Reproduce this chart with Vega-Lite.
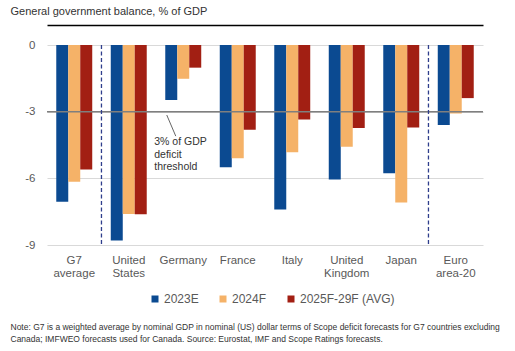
{
  "$schema": "https://vega.github.io/schema/vega-lite/v6.json",
  "width": 436,
  "height": 200,
  "autosize": {"type": "none"},
  "padding": {"left": 47, "top": 45, "right": 32, "bottom": 106},
  "background": "white",
  "config": {"view": {"stroke": null}, "font": "Liberation Sans"},
  "resolve": {"axis": {"x": "independent", "y": "independent"}},
  "layer": [
    {
      "data": {"values": [
        {"country": "G7 average", "series": "2023E", "value": -7.05},
        {"country": "G7 average", "series": "2024F", "value": -6.15},
        {"country": "G7 average", "series": "2025F-29F (AVG)", "value": -5.6},
        {"country": "United States", "series": "2023E", "value": -8.8},
        {"country": "United States", "series": "2024F", "value": -7.6},
        {"country": "United States", "series": "2025F-29F (AVG)", "value": -7.62},
        {"country": "Germany", "series": "2023E", "value": -2.48},
        {"country": "Germany", "series": "2024F", "value": -1.52},
        {"country": "Germany", "series": "2025F-29F (AVG)", "value": -1.02},
        {"country": "France", "series": "2023E", "value": -5.5},
        {"country": "France", "series": "2024F", "value": -5.1},
        {"country": "France", "series": "2025F-29F (AVG)", "value": -3.81},
        {"country": "Italy", "series": "2023E", "value": -7.4},
        {"country": "Italy", "series": "2024F", "value": -4.83},
        {"country": "Italy", "series": "2025F-29F (AVG)", "value": -3.35},
        {"country": "United Kingdom", "series": "2023E", "value": -6.05},
        {"country": "United Kingdom", "series": "2024F", "value": -4.58},
        {"country": "United Kingdom", "series": "2025F-29F (AVG)", "value": -3.74},
        {"country": "Japan", "series": "2023E", "value": -5.77},
        {"country": "Japan", "series": "2024F", "value": -7.09},
        {"country": "Japan", "series": "2025F-29F (AVG)", "value": -3.71},
        {"country": "Euro area-20", "series": "2023E", "value": -3.6},
        {"country": "Euro area-20", "series": "2024F", "value": -3.08},
        {"country": "Euro area-20", "series": "2025F-29F (AVG)", "value": -2.39}
      ]},
      "mark": {"type": "bar"},
      "encoding": {
        "x": {
          "field": "country", "type": "nominal",
          "sort": ["G7 average", "United States", "Germany", "France", "Italy", "United Kingdom", "Japan", "Euro area-20"],
          "scale": {"paddingInner": 0.34, "paddingOuter": 0.17},
          "axis": {
            "orient": "bottom", "domain": false, "ticks": false, "grid": false,
            "labelAngle": 0, "labelPadding": 9, "labelFontSize": 11.5, "labelColor": "#595959",
            "labelBaseline": "top", "labelLineHeight": 13.5,
            "labelExpr": "split(datum.label, ' ')",
            "title": ["Note: G7 is a weighted average by nominal GDP in nominal (US) dollar terms of Scope deficit forecasts for G7 countries excluding", "Canada; IMFWEO forecasts used for Canada. Source: Eurostat, IMF and Scope Ratings forecasts."],
            "titleX": -37, "titleY": 84.5, "titleAlign": "left", "titleAnchor": "start",
            "titleBaseline": "alphabetic", "titleFontSize": 8.5, "titleFontWeight": "normal",
            "titleColor": "#333333", "titleLineHeight": 11.6
          }
        },
        "xOffset": {
          "field": "series", "type": "nominal",
          "sort": ["2023E", "2024F", "2025F-29F (AVG)"],
          "scale": {"paddingInner": 0, "paddingOuter": 0}
        },
        "y": {
          "field": "value", "type": "quantitative",
          "scale": {"domain": [-9, 0], "nice": false},
          "axis": {
            "values": [0, -3, -6, -9], "domain": false, "ticks": false,
            "gridColor": "#d9d9d9", "gridWidth": 1,
            "labelPadding": 12, "labelFontSize": 11.5, "labelColor": "#595959",
            "labelExpr": "toString(datum.value)",
            "title": "General government balance, % of GDP",
            "titleAngle": 0, "titleAlign": "left", "titleAnchor": "start", "titleBaseline": "alphabetic",
            "titleX": -37, "titleY": -31, "titleFontSize": 11, "titleFontWeight": "normal", "titleColor": "#333333"
          }
        },
        "color": {
          "field": "series", "type": "nominal",
          "scale": {"domain": ["2023E", "2024F", "2025F-29F (AVG)"], "range": ["#0b4a91", "#f5b268", "#a21f13"]},
          "legend": {
            "orient": "none", "legendX": 102, "legendY": 248, "direction": "horizontal",
            "title": null, "symbolType": "square", "symbolSize": 49, "symbolStrokeWidth": 0,
            "labelFontSize": 12, "labelColor": "#595959", "labelOffset": 3, "columnPadding": 18
          }
        }
      }
    },
    {
      "data": {"values": [{"v": -3}]},
      "mark": {"type": "rule", "color": "#7f7f7f", "strokeWidth": 1.5},
      "encoding": {"y": {"field": "v", "type": "quantitative", "axis": null}}
    },
    {
      "data": {"values": [{"country": "United States"}, {"country": "Euro area-20"}]},
      "mark": {"type": "rule", "color": "#2f3e8c", "strokeWidth": 1.3, "strokeDash": [4, 2.5], "xOffset": -9.3},
      "encoding": {
        "x": {
          "field": "country", "type": "nominal", "bandPosition": 0,
          "sort": ["G7 average", "United States", "Germany", "France", "Italy", "United Kingdom", "Japan", "Euro area-20"],
          "axis": {"orient": "top", "labels": false, "ticks": false, "grid": false, "domain": true,
                   "domainColor": "#000000", "domainWidth": 1.5, "offset": 20, "title": null}
        },
        "y": {"datum": 0, "axis": null},
        "y2": {"datum": -9}
      }
    },
    {
      "data": {"values": [{"country": "Germany", "y1": -3.15, "y2": -4.1}]},
      "mark": {"type": "rule", "color": "#666666", "strokeWidth": 1, "xOffset": -16.5, "x2Offset": -7.5},
      "encoding": {
        "x": {"field": "country", "type": "nominal", "axis": null,
              "sort": ["G7 average", "United States", "Germany", "France", "Italy", "United Kingdom", "Japan", "Euro area-20"]},
        "x2": {"field": "country"},
        "y": {"field": "y1", "type": "quantitative", "axis": null},
        "y2": {"field": "y2"}
      }
    },
    {
      "data": {"values": [{"country": "Germany", "value": -4.5, "label": "3% of GDP\ndeficit\nthreshold"}]},
      "mark": {"type": "text", "align": "left", "baseline": "alphabetic", "dx": -29, "lineBreak": "\n",
               "lineHeight": 12.5, "fontSize": 10.5, "color": "#333333"},
      "encoding": {
        "x": {"field": "country", "type": "nominal", "axis": null,
              "sort": ["G7 average", "United States", "Germany", "France", "Italy", "United Kingdom", "Japan", "Euro area-20"]},
        "y": {"field": "value", "type": "quantitative", "axis": null},
        "text": {"field": "label"}
      }
    }
  ]
}
